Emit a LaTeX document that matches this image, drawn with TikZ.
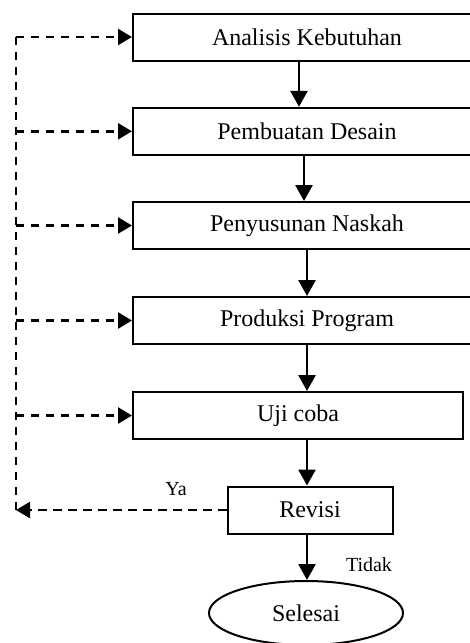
\documentclass[tikz,border=0pt]{standalone}
\usepackage{fontspec}
\setmainfont{Liberation Serif}
\usetikzlibrary{arrows.meta,shapes.geometric}
\begin{document}
\begin{tikzpicture}[x=1pt,y=-1pt,
  box/.style={draw,line width=2pt,inner sep=0pt,minimum height=47pt,font=\fontsize{24}{28}\selectfont},
  arr/.style={line width=2.7pt,-{Triangle[width=17pt,length=16pt]}},
  darr/.style={line width=2.5pt,dash pattern=on 8.3pt off 6.7pt,-{Triangle[width=16pt,length=14pt]}},
  dline/.style={line width=2.5pt,dash pattern=on 8.3pt off 6.7pt},
  lbl/.style={font=\fontsize{20}{24}\selectfont,inner sep=0pt}]
\clip (0,0) rectangle (470,643);
\fill[white] (0,0) rectangle (470,643);
\node[box,minimum width=348pt] (a) at (307,37) {Analisis Kebutuhan};
\node[box,minimum width=348pt] (b) at (307,131.3) {Pembuatan Desain};
\node[box,minimum width=348pt] (c) at (307,225.5) {Penyusunan Naskah};
\node[box,minimum width=348pt] (d) at (307,320.5) {Produksi Program};
\node[box,minimum width=330pt] (e) at (298,415.5) {Uji coba};
\node[box,minimum width=165pt] (r) at (310,510) {Revisi};
\node[draw,ellipse,line width=2pt,minimum width=194pt,minimum height=64pt,inner sep=0pt,font=\fontsize{24}{28}\selectfont] (s) at (306,613) {Selesai};
\coordinate (top) at (16,37);
\coordinate (bot) at (16,510);
\draw[arr] ([xshift=-8pt]a.south) -- ([xshift=-8pt]a.south |- b.north);
\draw[arr] ([xshift=-3pt]b.south) -- ([xshift=-3pt]b.south |- c.north);
\draw[arr] (c.south) -- (d.north);
\draw[arr] (d.south) -- (d.south |- e.north);
\draw[arr] (d.south |- e.south) -- (d.south |- r.north);
\draw[arr] (d.south |- r.south) -- (d.south |- s.north);
\draw[dline] (top) -- (bot);
\draw[darr] (top) -- (a.west);
\draw[darr] (b.west -| top) -- (b.west);
\draw[darr] (c.west -| top) -- (c.west);
\draw[darr] (d.west -| top) -- (d.west);
\draw[darr] (e.west -| top) -- (e.west);
\draw[darr] (r.west) -- (bot);
\node[lbl] (ya) at (176,489) {Ya};
\node[lbl] (td) at (369,565) {Tidak};
\end{tikzpicture}
\end{document}
